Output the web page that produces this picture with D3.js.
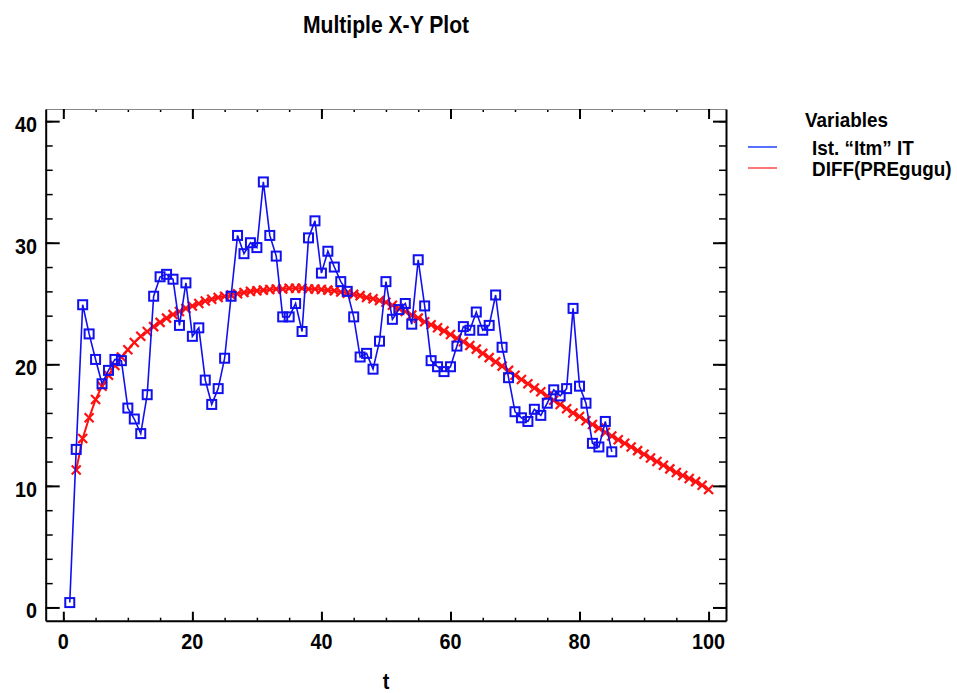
<!DOCTYPE html>
<html><head><meta charset="utf-8">
<script src="https://cdn.jsdelivr.net/npm/d3@7"></script>
<style>
html,body{margin:0;padding:0;background:#fff;}
text{font-family:"Liberation Sans",Arial,Helvetica,sans-serif;font-weight:bold;fill:#000;}
</style></head>
<body><svg id="chart" width="957" height="693"></svg>
<script>
const title = "Multiple X-Y Plot";
const xLabel = "t";
const legendTitle = "Variables";
const seriesNames = ["Ist. \u201cItm\u201d IT", "DIFF(PREgugu)"];
const seriesColors = ["#1010f0", "#ff1010"];
const xTicks = [0, 20, 40, 60, 80, 100];
const yTicks = [0, 10, 20, 30, 40];

const blueT = d3.range(1, 86);
const blueV = [0.4, 13.0, 24.9, 22.5, 20.4, 18.4, 19.5, 20.4, 20.3, 16.4,
  15.5, 14.3, 17.5, 25.6, 27.2, 27.4, 27.0, 23.2, 26.7, 22.3,
  23.0, 18.7, 16.7, 18.0, 20.5, 25.6, 30.6, 29.1, 30.0, 29.6,
  35.0, 30.6, 28.9, 23.9, 23.9, 25.0, 22.7, 30.4, 31.8, 27.5,
  29.3, 28.0, 26.8, 26.0, 23.9, 20.6, 20.9, 19.6, 21.9, 26.8,
  23.7, 24.5, 25.0, 23.3, 28.6, 24.8, 20.3, 19.8, 19.4, 19.8,
  21.5, 23.1, 22.8, 24.3, 22.8, 23.2, 25.7, 21.4, 18.9, 16.1,
  15.6, 15.3, 16.3, 15.8, 16.8, 17.9, 17.4, 18.0, 24.6, 18.2,
  16.8, 13.5, 13.2, 15.3, 12.8];

const redT = d3.range(2, 101);
const redV = [11.3, 13.9, 15.6, 17.1, 18.2, 19.1, 19.9, 20.6, 21.2,
  21.8, 22.3, 22.7, 23.1, 23.45, 23.8, 24.1, 24.35, 24.6, 24.8,
  25.0, 25.2, 25.35, 25.5, 25.6, 25.7, 25.8, 25.9, 26.0, 26.05,
  26.1, 26.15, 26.2, 26.2, 26.25, 26.25, 26.25, 26.2, 26.2, 26.15,
  26.1, 26.05, 25.95, 25.85, 25.75, 25.65, 25.5, 25.4, 25.25, 25.1,
  24.85, 24.6, 24.35, 24.05, 23.8, 23.5, 23.25, 23.0, 22.75, 22.45,
  22.15, 21.85, 21.55, 21.25, 20.9, 20.55, 20.2, 19.85, 19.5, 19.1,
  18.75, 18.4, 18.05, 17.75, 17.4, 17.05, 16.7, 16.35, 16.0, 15.7,
  15.35, 15.05, 14.75, 14.4, 14.1, 13.8, 13.5, 13.2, 12.9, 12.6,
  12.3, 12.0, 11.7, 11.4, 11.1, 10.85, 10.6, 10.35, 10.05, 9.7];

const svg = d3.select("#chart");
const L = 45.7, R = 726, T = 109, B = 620.7;
const x = d3.scaleLinear().domain([-2.73, 102.7]).range([L, R]);
const y = d3.scaleLinear().domain([-1.09, 41.0]).range([B, T]);

function ctext(px, py, str, size, anchor, sx) {
  const g = svg.append("g").attr("transform", `translate(${px},${py}) scale(${sx},1)`);
  g.append("text").attr("text-anchor", anchor).attr("font-size", size).text(str);
  return g;
}

const xMinor = d3.range(0, 101, 5);
const yMinor = d3.range(0, 41, 2);

function drawAxis(axisFn, scale, pos, major, minor, majLen, minLen, color, width) {
  const gMin = svg.append("g").attr("transform", pos)
    .call(axisFn(scale).tickValues(minor).tickSize(-minLen).tickFormat(""));
  gMin.select(".domain").remove();
  gMin.selectAll("line").attr("stroke", "#000").attr("stroke-width", 1.5);
  const gMaj = svg.append("g").attr("transform", pos)
    .call(axisFn(scale).tickValues(major).tickSize(-majLen).tickSizeOuter(0).tickFormat(""));
  gMaj.select(".domain").attr("stroke", color).attr("stroke-width", width);
  gMaj.selectAll("line").attr("stroke", "#000").attr("stroke-width", 2);
}
drawAxis(d3.axisBottom, x, `translate(0,${B})`, xTicks, xMinor, 9, 3, "#000", 2);
drawAxis(d3.axisTop, x, `translate(0,${T})`, xTicks, xMinor, 10, 3, "#888", 1);
drawAxis(d3.axisLeft, y, `translate(${L},0)`, yTicks, yMinor, 14, 7, "#000", 2);
drawAxis(d3.axisRight, y, `translate(${R},0)`, yTicks, yMinor, 13, 7, "#000", 2);

// tick labels
xTicks.forEach(v => ctext(x(v), 649, String(v), 22, "middle", 0.9));
yTicks.forEach(v => ctext(37, y(v) + 11, String(v), 22, "end", 0.9));

// title & axis label
ctext(386, 33, title, 24, "middle", 0.88);
ctext(386, 689, xLabel, 22, "middle", 0.9);

// series
const blueData = blueT.map((t, i) => [t, blueV[i]]);
const redData = redT.map((t, i) => [t, redV[i]]);
const line = d3.line().x(d => x(d[0])).y(d => y(d[1]));

svg.append("path").datum(redData).attr("d", line)
  .attr("fill", "none").attr("stroke", seriesColors[1]).attr("stroke-width", 2);
const xs = 4.5;
svg.append("g").selectAll("path").data(redData).join("path")
  .attr("d", d => {
    const cx = x(d[0]), cy = y(d[1]);
    return `M${cx - xs},${cy - xs}L${cx + xs},${cy + xs}M${cx - xs},${cy + xs}L${cx + xs},${cy - xs}`;
  })
  .attr("stroke", seriesColors[1]).attr("stroke-width", 2.2).attr("fill", "none");

svg.append("path").datum(blueData).attr("d", line)
  .attr("fill", "none").attr("stroke", seriesColors[0]).attr("stroke-width", 1.6);
const sq = 9;
svg.append("g").selectAll("rect").data(blueData).join("rect")
  .attr("x", d => x(d[0]) - sq / 2).attr("y", d => y(d[1]) - sq / 2)
  .attr("width", sq).attr("height", sq)
  .attr("fill", "none").attr("stroke", seriesColors[0]).attr("stroke-width", 2);

// legend
ctext(805, 127, legendTitle, 21, "start", 0.9);
const legY = [147, 168];
seriesNames.forEach((n, i) => {
  svg.append("line").attr("x1", 748).attr("x2", 777).attr("y1", legY[i]).attr("y2", legY[i])
    .attr("stroke", i === 0 ? "#2040ff" : "#ff4a4a").attr("stroke-width", 1.5);
  ctext(812, legY[i] + 8, n, 21, "start", 0.9);
});
</script></body></html>
